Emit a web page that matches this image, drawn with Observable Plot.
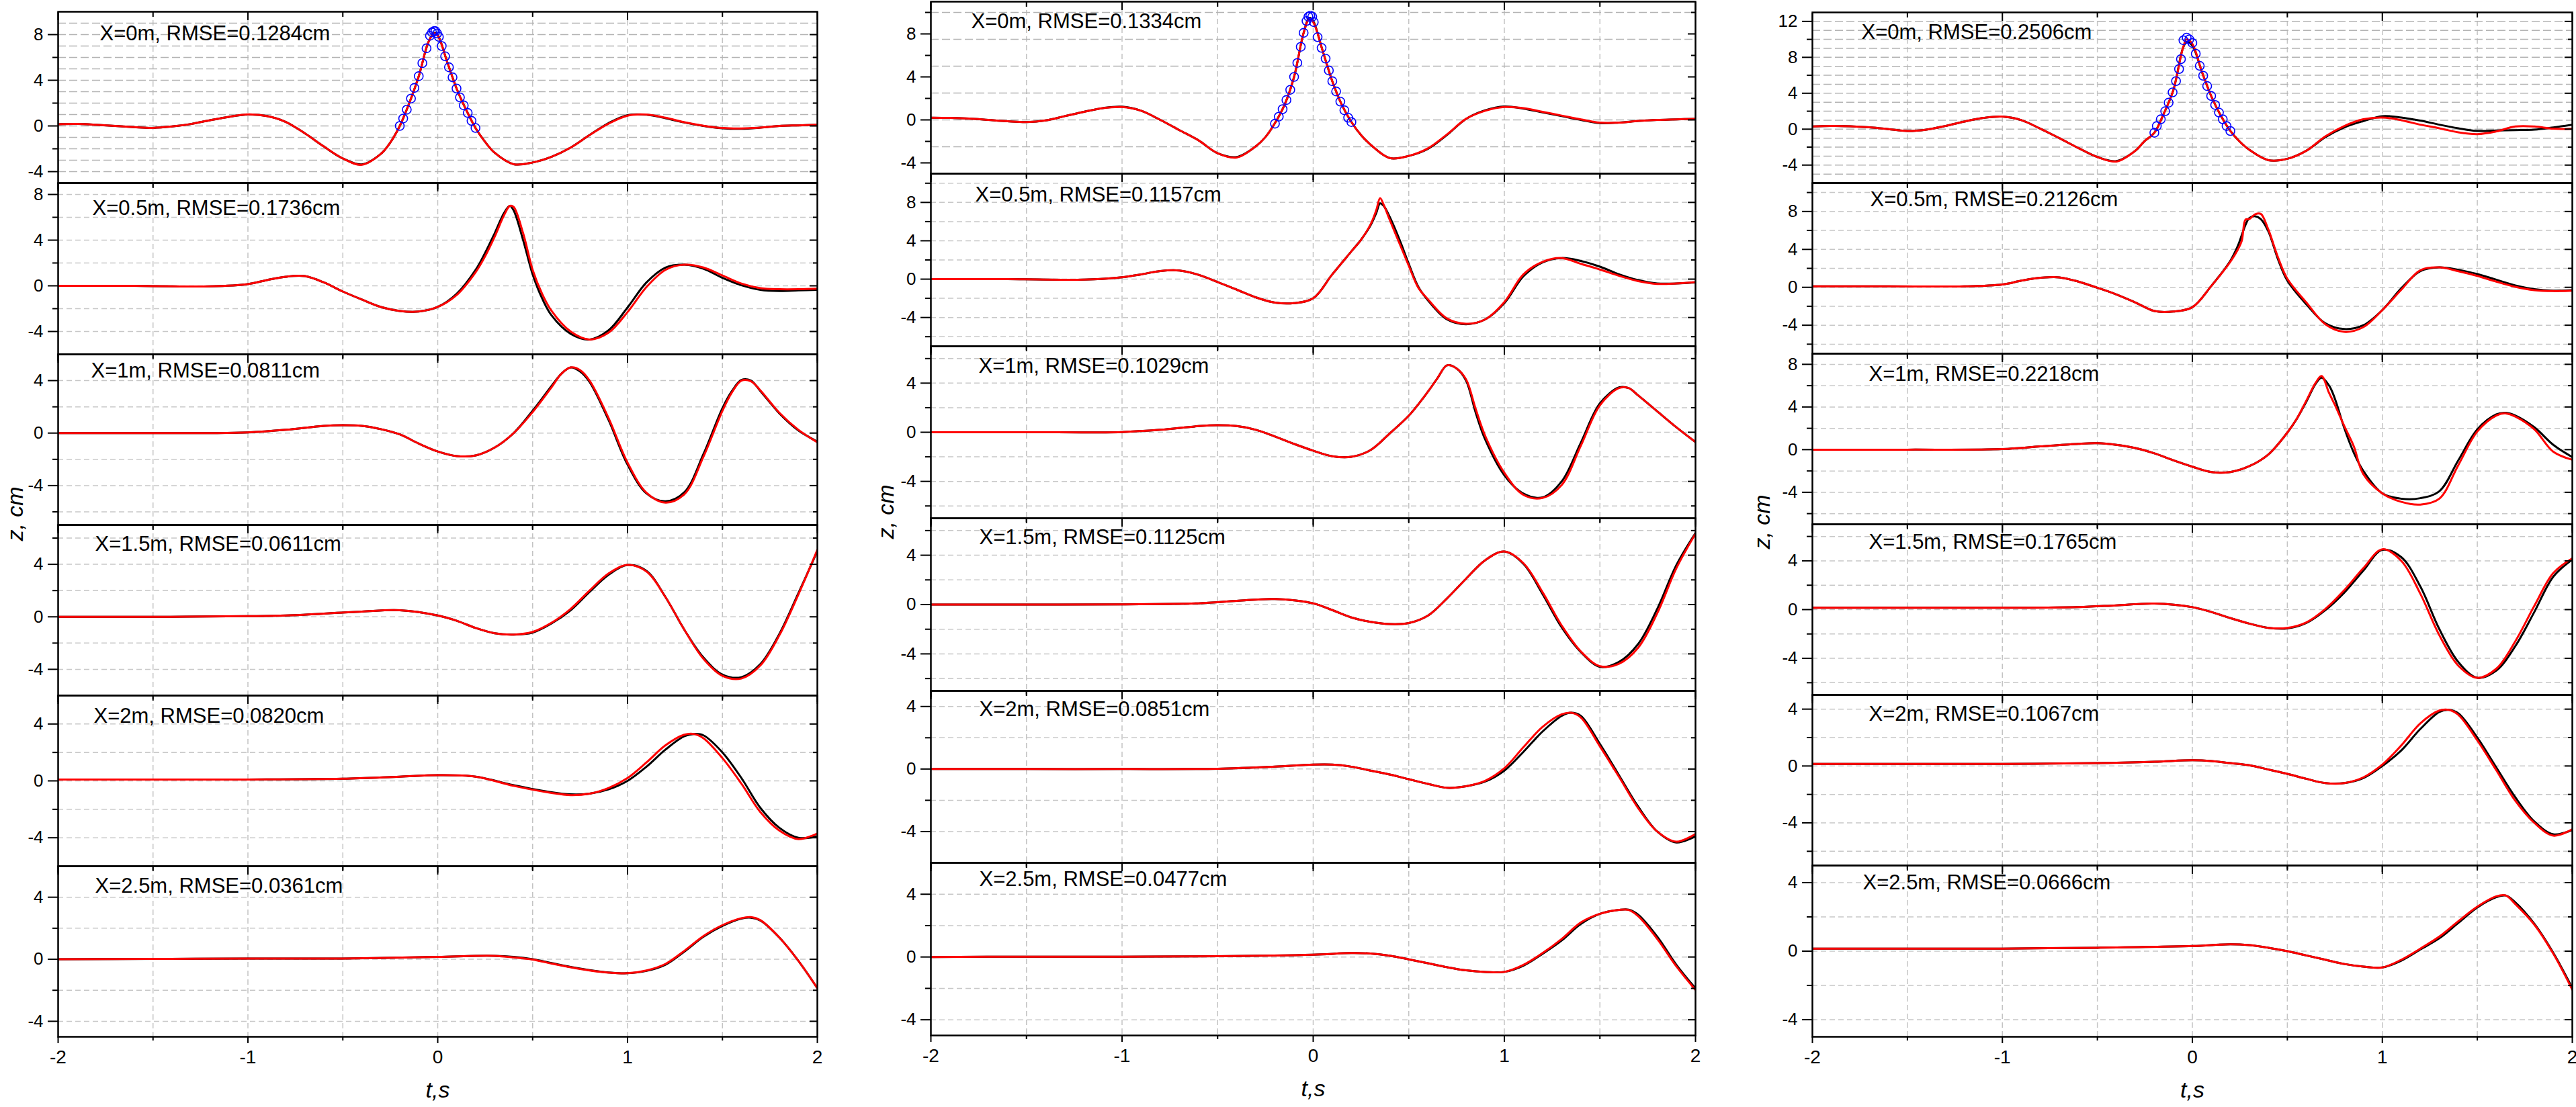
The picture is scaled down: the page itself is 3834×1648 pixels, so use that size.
<!DOCTYPE html>
<html>
<head>
<meta charset="utf-8">
<script src="https://cdn.jsdelivr.net/npm/d3@7"></script>
<script src="https://cdn.jsdelivr.net/npm/@observablehq/plot@0.6"></script>
<style>
html, body { margin: 0; padding: 0; background: #ffffff; }
#root { position: relative; width: 3834px; height: 1648px; overflow: hidden; background: #ffffff; font-family: "Liberation Sans", Arial, sans-serif; }
#root svg { position: absolute; overflow: visible; }
.zlab { position: absolute; font-family: "Liberation Sans", Arial, sans-serif; font-style: italic; font-size: 34px; line-height: 34px; color: #000; white-space: nowrap; transform: translate(-50%, -50%) rotate(-90deg); }
</style>
</head>
<body>
<div id="root"></div>
<script>
// ---------------- axis ticks / grid values ----------------
const xMajorTicks = [-2, -1, 0, 1, 2];
const xMinorTicks = [-1.5, -0.5, 0.5, 1.5];
const xGridLines = [-1.5, -1, -0.5, 0, 0.5, 1, 1.5];
const yMajorTicks = [-4, 0, 4, 8, 12];
const yMinorTicks = [-6, -2, 2, 6, 10];
const yGridEvery1 = [-6, -5, -4, -3, -2, -1, 0, 1, 2, 3, 4, 5, 6, 7, 8, 9, 10, 11, 12];
const yGridEvery2 = [-6, -4, -2, 0, 2, 4, 6, 8, 10];
const yGridEvery2p5 = [-2.5, 0, 2.5, 5, 7.5, 10];

// ---------------- labels ----------------
const c1_labels = ["X=0m, RMSE=0.1284cm", "X=0.5m, RMSE=0.1736cm", "X=1m, RMSE=0.0811cm", "X=1.5m, RMSE=0.0611cm", "X=2m, RMSE=0.0820cm", "X=2.5m, RMSE=0.0361cm"];
const c2_labels = ["X=0m, RMSE=0.1334cm", "X=0.5m, RMSE=0.1157cm", "X=1m, RMSE=0.1029cm", "X=1.5m, RMSE=0.1125cm", "X=2m, RMSE=0.0851cm", "X=2.5m, RMSE=0.0477cm"];
const c3_labels = ["X=0m, RMSE=0.2506cm", "X=0.5m, RMSE=0.2126cm", "X=1m, RMSE=0.2218cm", "X=1.5m, RMSE=0.1765cm", "X=2m, RMSE=0.1067cm", "X=2.5m, RMSE=0.0666cm"];
const xAxisLabel = "t,s";
const yAxisLabel = "z, cm";

// ---------------- y domains ----------------
const c1_ydomains = [[-5, 10], [-6, 9], [-7, 6], [-6, 7], [-6, 6], [-5, 6]];
const c2_ydomains = [[-5, 11], [-7, 11], [-7, 7], [-7, 7], [-6, 5], [-5, 6]];
const c3_ydomains = [[-6, 13], [-7, 11], [-7, 9], [-7, 7], [-7, 5], [-5, 5]];

// ---------------- column 1 data ----------------
const c1p1_t = [-2,-1.9,-1.8,-1.7,-1.6,-1.5,-1.4,-1.3,-1.2,-1.1,-1,-0.9,-0.8,-0.7,-0.6,-0.5,-0.4,-0.3,-0.25,-0.2,-0.15,-0.1,-0.05,-0.02,0,0.05,0.1,0.15,0.2,0.25,0.3,0.4,0.5,0.6,0.7,0.8,0.9,1,1.1,1.2,1.3,1.4,1.5,1.6,1.7,1.8,1.9,2];
const c1p1_meas = [0.15,0.17,0.1,0,-0.1,-0.17,-0.05,0.17,0.5,0.8,1.0,0.87,0.35,-0.65,-1.8,-2.85,-3.37,-2.45,-1.45,0,2.0,4.35,7.3,8.15,7.95,5.6,3.25,1.4,-0.2,-1.4,-2.35,-3.35,-3.2,-2.7,-1.9,-0.8,0.25,0.95,0.98,0.68,0.3,0,-0.2,-0.25,-0.15,0,0.05,0.1];
const c1p1_sim = [0.15,0.17,0.1,0,-0.1,-0.17,-0.05,0.17,0.5,0.8,1.02,0.87,0.35,-0.65,-1.8,-2.85,-3.4,-2.45,-1.45,0,2.0,4.35,7.3,8.1,7.9,5.6,3.25,1.4,-0.2,-1.4,-2.35,-3.35,-3.2,-2.7,-1.9,-0.8,0.2,0.9,1.0,0.72,0.32,0.02,-0.18,-0.22,-0.15,0,0.05,0.1];
const c1_circ_t = [-0.2,-0.182,-0.163,-0.141,-0.123,-0.1,-0.081,-0.059,-0.041,-0.03,-0.02,-0.012,-0.003,0.006,0.021,0.039,0.059,0.078,0.099,0.117,0.137,0.158,0.178,0.199];
const c1_circ_z = [0.0,0.65,1.43,2.4,3.33,4.36,5.5,6.8,7.9,8.2,8.3,8.3,8.1,7.8,7.0,6.1,5.14,4.26,3.28,2.5,1.8,1.14,0.45,-0.18];

const c1p2_t = [-2,-1.8,-1.6,-1.4,-1.2,-1,-0.9,-0.8,-0.7,-0.6,-0.5,-0.4,-0.3,-0.2,-0.1,0,0.1,0.2,0.25,0.3,0.35,0.38,0.4,0.45,0.5,0.55,0.6,0.7,0.8,0.9,1,1.1,1.2,1.3,1.4,1.5,1.6,1.7,1.8,1.9,2];
const c1p2_meas = [0,0,0,-0.05,-0.05,0.15,0.5,0.8,0.85,0.3,-0.5,-1.2,-1.85,-2.2,-2.25,-1.85,-0.7,1.4,2.9,4.6,6.4,7.0,6.6,4.0,1.0,-1.1,-2.6,-4.2,-4.7,-3.9,-1.9,0.3,1.6,1.85,1.5,0.7,0.05,-0.35,-0.45,-0.4,-0.35];
const c1p2_sim = [0,0,0,-0.05,-0.05,0.15,0.5,0.8,0.85,0.3,-0.5,-1.2,-1.85,-2.2,-2.25,-1.85,-0.8,1.2,2.6,4.3,6.2,7.0,6.9,4.6,1.4,-0.7,-2.2,-4.0,-4.7,-4.1,-2.3,-0.1,1.4,1.85,1.6,0.9,0.2,-0.2,-0.3,-0.3,-0.25];

const c1p3_t = [-2,-1.6,-1.2,-1,-0.8,-0.6,-0.5,-0.4,-0.3,-0.2,-0.1,0,0.1,0.2,0.3,0.4,0.5,0.6,0.65,0.7,0.75,0.8,0.9,1,1.1,1.2,1.3,1.4,1.5,1.55,1.6,1.65,1.7,1.8,1.9,2];
const c1p3_meas = [0,0,0,0.05,0.25,0.55,0.6,0.55,0.3,-0.1,-0.8,-1.4,-1.75,-1.7,-1.1,0,1.7,3.6,4.5,5.0,4.7,3.9,1.0,-2.4,-4.6,-5.2,-4.5,-1.6,1.9,3.2,4.05,4.0,3.2,1.5,0.2,-0.65];
const c1p3_sim = [0,0,0,0.05,0.25,0.55,0.6,0.55,0.3,-0.1,-0.8,-1.4,-1.75,-1.7,-1.1,0,1.6,3.5,4.5,5.0,4.8,4.0,1.15,-2.25,-4.55,-5.3,-4.65,-1.8,1.7,3.1,4.0,3.95,3.25,1.55,0.25,-0.7];

const c1p4_t = [-2,-1.5,-1,-0.8,-0.6,-0.4,-0.2,0,0.1,0.2,0.3,0.4,0.5,0.6,0.7,0.8,0.9,1,1.1,1.2,1.3,1.4,1.5,1.6,1.7,1.8,1.9,2];
const c1p4_meas = [0,0,0.05,0.1,0.25,0.4,0.5,0.1,-0.3,-0.85,-1.25,-1.35,-1.2,-0.5,0.5,1.9,3.2,3.95,3.5,1.5,-1.0,-3.1,-4.4,-4.6,-3.6,-1.3,1.8,5.0];
const c1p4_sim = [0,0,0.05,0.1,0.25,0.4,0.5,0.1,-0.3,-0.85,-1.25,-1.35,-1.15,-0.45,0.6,2.0,3.3,3.95,3.45,1.5,-1.0,-3.2,-4.5,-4.7,-3.7,-1.4,1.7,5.1];

const c1p5_t = [-2,-1.5,-1,-0.5,-0.2,0,0.2,0.4,0.6,0.7,0.8,0.9,1,1.1,1.2,1.3,1.35,1.4,1.5,1.6,1.7,1.8,1.9,2];
const c1p5_meas = [0.1,0.1,0.1,0.15,0.3,0.4,0.3,-0.3,-0.8,-0.95,-0.9,-0.6,0,1.0,2.2,3.15,3.3,3.2,2.0,0.2,-1.9,-3.3,-4.0,-3.9];
const c1p5_sim = [0.1,0.1,0.1,0.15,0.3,0.4,0.3,-0.35,-0.85,-1.0,-0.9,-0.5,0.2,1.3,2.5,3.25,3.3,3.0,1.6,-0.2,-2.2,-3.5,-4.1,-3.7];

const c1p6_t = [-2,-1.5,-1,-0.5,0,0.2,0.3,0.4,0.5,0.6,0.7,0.8,0.9,1,1.1,1.2,1.3,1.4,1.5,1.6,1.65,1.7,1.8,1.9,2];
const c1p6_meas = [0,0.02,0.05,0.05,0.15,0.22,0.22,0.15,0,-0.25,-0.5,-0.7,-0.85,-0.9,-0.75,-0.35,0.5,1.45,2.15,2.62,2.68,2.5,1.4,-0.1,-1.87];
const c1p6_sim = [0,0.02,0.05,0.05,0.15,0.22,0.22,0.12,-0.02,-0.28,-0.52,-0.72,-0.86,-0.9,-0.72,-0.3,0.55,1.5,2.2,2.65,2.72,2.52,1.4,-0.1,-1.87];

// ---------------- column 2 data ----------------
const c2p1_t = [-2,-1.9,-1.8,-1.7,-1.6,-1.5,-1.4,-1.3,-1.2,-1.1,-1,-0.9,-0.8,-0.7,-0.6,-0.5,-0.4,-0.3,-0.25,-0.2,-0.15,-0.1,-0.05,-0.02,0,0.05,0.1,0.15,0.2,0.25,0.3,0.4,0.5,0.6,0.7,0.8,0.9,1,1.1,1.2,1.3,1.4,1.5,1.6,1.7,1.8,1.9,2];
const c2p1_meas = [0.2,0.18,0.12,0,-0.12,-0.2,-0.05,0.35,0.75,1.1,1.23,0.85,0,-0.95,-1.9,-3.1,-3.45,-2.45,-1.6,-0.3,1.4,4.0,8.1,9.5,9.2,6.4,3.6,1.4,-0.2,-1.4,-2.3,-3.55,-3.35,-2.7,-1.4,0.1,0.9,1.25,1.05,0.7,0.35,0,-0.3,-0.25,-0.1,0,0.05,0.1];
const c2p1_sim = [0.2,0.18,0.12,0,-0.12,-0.2,-0.05,0.35,0.75,1.1,1.2,0.85,0,-0.95,-1.9,-3.1,-3.5,-2.45,-1.6,-0.3,1.4,4.0,8.1,9.4,9.1,6.4,3.6,1.4,-0.2,-1.4,-2.3,-3.55,-3.35,-2.65,-1.35,0.1,0.85,1.2,1.1,0.75,0.4,0.05,-0.25,-0.25,-0.1,0,0.05,0.1];
const c2_circ_t = [-0.2,-0.18,-0.16,-0.14,-0.12,-0.1,-0.083,-0.065,-0.05,-0.035,-0.025,-0.015,-0.005,0.003,0.023,0.044,0.065,0.082,0.1,0.12,0.142,0.163,0.183,0.2];
const c2_circ_z = [-0.35,0.3,1.0,1.85,2.8,4.0,5.3,6.8,8.1,9.2,9.6,9.7,9.6,9.1,7.7,6.7,5.7,4.6,3.6,2.65,1.7,0.9,0.2,-0.2];

const c2p2_t = [-2,-1.6,-1.2,-1,-0.9,-0.8,-0.7,-0.6,-0.5,-0.4,-0.3,-0.2,-0.1,0,0.1,0.2,0.25,0.3,0.33,0.35,0.37,0.4,0.45,0.5,0.55,0.6,0.7,0.8,0.9,1,1.1,1.2,1.3,1.4,1.5,1.6,1.7,1.8,1.9,2];
const c2p2_meas = [0,0,-0.05,0.2,0.5,0.85,0.9,0.45,-0.3,-1.1,-1.9,-2.45,-2.5,-2.0,0.5,2.9,4.1,5.6,6.9,7.9,7.6,6.5,4.2,1.6,-0.8,-2.2,-4.2,-4.7,-4.2,-2.5,0.3,1.75,2.2,1.9,1.3,0.5,-0.1,-0.45,-0.45,-0.35];
const c2p2_sim = [0,0,-0.05,0.2,0.5,0.85,0.9,0.45,-0.3,-1.1,-1.9,-2.45,-2.5,-2.0,0.5,2.9,4.1,5.7,7.2,8.45,7.7,6.2,3.8,1.4,-0.9,-2.1,-4.1,-4.65,-4.2,-2.4,0.5,1.8,2.2,1.6,1.0,0.35,-0.2,-0.5,-0.45,-0.3];

const c2p3_t = [-2,-1.5,-1,-0.8,-0.6,-0.5,-0.4,-0.3,-0.2,-0.1,0,0.1,0.2,0.3,0.4,0.5,0.6,0.65,0.7,0.75,0.8,0.85,0.9,1,1.1,1.2,1.3,1.4,1.5,1.6,1.65,1.7,1.8,1.9,2];
const c2p3_meas = [0,0,0.02,0.2,0.5,0.57,0.5,0.2,-0.35,-0.95,-1.5,-1.95,-2.0,-1.45,-0.1,1.35,3.3,4.4,5.45,5.2,4.2,1.6,-0.6,-3.5,-5.0,-5.3,-4.0,-0.85,2.35,3.65,3.6,3.0,1.7,0.4,-0.8];
const c2p3_sim = [0,0,0.02,0.2,0.5,0.57,0.5,0.2,-0.35,-0.95,-1.5,-1.95,-2.0,-1.45,-0.1,1.35,3.3,4.4,5.45,5.2,4.3,1.9,-0.3,-3.3,-5.1,-5.35,-4.3,-1.1,2.2,3.6,3.6,3.0,1.7,0.4,-0.8];

const c2p4_t = [-2,-1.5,-1,-0.6,-0.4,-0.2,0,0.1,0.2,0.3,0.4,0.5,0.6,0.7,0.8,0.9,1,1.1,1.2,1.3,1.4,1.5,1.6,1.7,1.8,1.9,2];
const c2p4_meas = [0,0,0.02,0.1,0.3,0.45,0.1,-0.45,-1.05,-1.4,-1.58,-1.5,-0.9,0.5,2.1,3.6,4.3,3.3,0.85,-1.85,-3.85,-5.05,-4.65,-3.2,-0.35,3.2,5.8];
const c2p4_sim = [0,0,0.02,0.1,0.3,0.45,0.1,-0.45,-1.05,-1.4,-1.58,-1.5,-0.9,0.5,2.1,3.6,4.3,3.35,1.0,-1.7,-3.8,-5.0,-4.8,-3.5,-0.7,2.95,5.75];

const c2p5_t = [-2,-1.5,-1,-0.5,-0.2,0,0.1,0.2,0.3,0.4,0.5,0.6,0.7,0.8,0.9,1,1.1,1.2,1.3,1.35,1.4,1.5,1.6,1.7,1.8,1.9,2];
const c2p5_meas = [0,0,0,0.02,0.15,0.28,0.28,0.15,-0.1,-0.35,-0.65,-0.95,-1.2,-1.1,-0.8,-0.1,1.1,2.4,3.4,3.6,3.4,1.6,-0.4,-2.4,-4.0,-4.7,-4.3];
const c2p5_sim = [0,0,0,0.02,0.15,0.28,0.28,0.15,-0.1,-0.35,-0.65,-0.95,-1.2,-1.1,-0.75,0.05,1.4,2.7,3.5,3.6,3.3,1.45,-0.5,-2.5,-4.0,-4.65,-4.15];

const c2p6_t = [-2,-1.5,-1,-0.5,0,0.2,0.3,0.4,0.5,0.6,0.7,0.8,0.9,1,1.1,1.2,1.3,1.4,1.5,1.6,1.65,1.7,1.8,1.9,2];
const c2p6_meas = [0,0.02,0.02,0.05,0.15,0.25,0.22,0.08,-0.15,-0.4,-0.65,-0.85,-0.95,-0.95,-0.55,0.2,1.05,2.1,2.75,3.0,3.02,2.7,1.3,-0.5,-2.0];
const c2p6_sim = [0,0.02,0.02,0.05,0.15,0.25,0.22,0.08,-0.15,-0.4,-0.65,-0.85,-0.95,-0.95,-0.5,0.25,1.15,2.2,2.75,3.0,3.0,2.6,1.15,-0.6,-2.1];

// ---------------- column 3 data ----------------
const c3p1_t = [-2,-1.9,-1.8,-1.7,-1.6,-1.5,-1.4,-1.3,-1.2,-1.1,-1,-0.9,-0.8,-0.7,-0.6,-0.5,-0.4,-0.3,-0.25,-0.2,-0.15,-0.1,-0.05,-0.03,0,0.05,0.1,0.15,0.2,0.25,0.3,0.4,0.5,0.6,0.7,0.8,0.9,1,1.1,1.2,1.3,1.4,1.5,1.6,1.7,1.8,1.9,2];
const c3p1_meas = [0.3,0.35,0.32,0.2,0,-0.2,-0.05,0.35,0.85,1.25,1.4,1.0,0.05,-1.0,-2.1,-3.1,-3.55,-2.4,-1.3,-0.4,1.75,4.35,9.0,9.7,9.3,6.4,3.65,1.5,-0.2,-1.4,-2.3,-3.45,-3.3,-2.4,-0.9,0.2,0.9,1.45,1.3,0.95,0.5,0.1,-0.2,-0.15,-0.1,-0.05,0.2,0.5];
const c3p1_sim = [0.3,0.35,0.32,0.2,0,-0.2,-0.05,0.35,0.85,1.25,1.4,1.0,0.05,-1.0,-2.1,-3.1,-3.6,-2.4,-1.3,-0.4,1.75,4.35,9.0,10.0,9.5,6.4,3.65,1.5,-0.2,-1.4,-2.3,-3.45,-3.3,-2.4,-0.8,0.35,1.1,1.3,1.0,0.5,0.1,-0.35,-0.55,-0.25,0.3,0.3,0.05,0.05];
const c3_circ_t = [-0.2,-0.187,-0.166,-0.143,-0.125,-0.104,-0.086,-0.07,-0.06,-0.047,-0.03,-0.016,0,0.018,0.039,0.057,0.078,0.099,0.12,0.14,0.16,0.18,0.2];
const c3_circ_z = [-0.4,0.35,1.1,2.0,2.95,4.1,5.35,6.7,7.8,9.9,10.2,10.0,9.6,8.4,7.05,5.95,4.8,3.7,2.7,1.85,1.1,0.35,-0.2];

const c3p2_t = [-2,-1.6,-1.2,-1,-0.9,-0.8,-0.7,-0.6,-0.5,-0.4,-0.3,-0.2,-0.1,0,0.1,0.2,0.24,0.26,0.28,0.3,0.33,0.36,0.4,0.45,0.5,0.6,0.7,0.8,0.9,1,1.1,1.2,1.3,1.4,1.5,1.6,1.7,1.8,1.9,2];
const c3p2_meas = [0.1,0.1,0.1,0.3,0.7,1.0,1.05,0.6,-0.05,-0.75,-1.6,-2.5,-2.55,-2.1,0.15,2.8,4.4,5.5,6.6,7.3,7.5,7.2,5.9,3.0,0.7,-1.8,-3.8,-4.4,-4.0,-2.4,-0.1,1.7,2.1,1.85,1.4,0.8,0.2,-0.2,-0.35,-0.3];
const c3p2_sim = [0.1,0.1,0.1,0.3,0.7,1.0,1.05,0.6,-0.05,-0.75,-1.6,-2.5,-2.55,-2.1,0.15,2.7,4.0,4.9,7.15,7.2,7.7,7.75,6.1,3.2,0.9,-1.6,-3.9,-4.7,-4.2,-2.4,-0.25,1.8,2.1,1.7,1.2,0.6,0.05,-0.3,-0.4,-0.35];

const c3p3_t = [-2,-1.5,-1,-0.8,-0.6,-0.5,-0.4,-0.3,-0.2,-0.1,0,0.1,0.2,0.3,0.4,0.5,0.55,0.6,0.65,0.68,0.72,0.75,0.8,0.85,0.9,1,1.1,1.2,1.3,1.4,1.5,1.6,1.65,1.7,1.8,1.9,2];
const c3p3_meas = [0,0,0.05,0.3,0.55,0.6,0.45,0.15,-0.35,-1.0,-1.6,-2.1,-2.1,-1.55,-0.45,1.6,2.9,4.5,6.2,6.75,6.0,4.8,2.0,-0.3,-2.0,-4.1,-4.6,-4.55,-3.9,-1.0,1.9,3.3,3.45,3.2,2.1,0.45,-0.7];
const c3p3_sim = [0,0,0.05,0.3,0.55,0.6,0.45,0.15,-0.35,-1.0,-1.6,-2.1,-2.1,-1.55,-0.45,1.6,2.9,4.6,6.3,6.9,5.3,4.2,2.2,0.3,-2.3,-4.1,-4.9,-5.15,-4.6,-1.45,1.7,3.2,3.4,3.1,1.9,-0.2,-0.95];

const c3p4_t = [-2,-1.5,-1,-0.6,-0.4,-0.2,0,0.1,0.2,0.3,0.4,0.5,0.6,0.7,0.8,0.9,1,1.1,1.2,1.3,1.4,1.5,1.6,1.7,1.8,1.9,2];
const c3p4_meas = [0.15,0.15,0.15,0.2,0.35,0.5,0.2,-0.2,-0.7,-1.15,-1.5,-1.55,-1.1,-0.05,1.4,3.2,4.9,4.3,1.9,-1.6,-4.3,-5.6,-5.0,-3.0,-0.2,2.7,4.1];
const c3p4_sim = [0.15,0.15,0.15,0.2,0.35,0.5,0.2,-0.2,-0.7,-1.15,-1.5,-1.5,-1.05,0.05,1.6,3.4,4.95,4.0,1.3,-2.1,-4.6,-5.6,-4.85,-2.6,0.3,3.0,4.2];

const c3p5_t = [-2,-1.5,-1,-0.5,-0.2,0,0.1,0.2,0.3,0.4,0.5,0.6,0.7,0.8,0.9,1,1.1,1.2,1.3,1.35,1.4,1.5,1.6,1.7,1.8,1.9,2];
const c3p5_meas = [0.15,0.15,0.15,0.2,0.3,0.4,0.35,0.2,0.05,-0.25,-0.55,-0.9,-1.2,-1.2,-0.85,0,1.1,2.6,3.8,3.95,3.7,2.0,-0.1,-2.2,-3.9,-4.8,-4.5];
const c3p5_sim = [0.15,0.15,0.15,0.2,0.3,0.4,0.35,0.2,0.05,-0.25,-0.55,-0.9,-1.2,-1.2,-0.8,0.1,1.45,3.0,3.9,3.95,3.6,1.8,-0.3,-2.45,-4.0,-4.9,-4.45];

const c3p6_t = [-2,-1.5,-1,-0.5,0,0.2,0.3,0.4,0.5,0.6,0.7,0.8,0.9,1,1.1,1.2,1.3,1.4,1.5,1.6,1.65,1.7,1.8,1.9,2];
const c3p6_meas = [0.15,0.15,0.15,0.2,0.3,0.4,0.35,0.2,0,-0.25,-0.5,-0.75,-0.9,-0.95,-0.55,0.1,0.75,1.65,2.55,3.15,3.25,2.85,1.6,-0.1,-2.15];
const c3p6_sim = [0.15,0.15,0.15,0.2,0.3,0.4,0.35,0.2,0,-0.25,-0.5,-0.75,-0.9,-0.95,-0.5,0.15,0.85,1.75,2.6,3.2,3.25,2.75,1.55,-0.15,-2.25];

// ---------------- layout (pixel positions of each panel frame) ----------------
const layout = [
  {left: 86, right: 1216, rows: [17, 272, 527, 781, 1035, 1289, 1543], zLabel: [22, 765],
   labelOffsets: [[62, 20], [51, 25], [49, 12], [55, 16], [53, 18], [55, 17]]},
  {left: 1385, right: 2523, rows: [2, 258, 515, 771, 1028, 1284, 1541], zLabel: [1318, 762],
   labelOffsets: [[60, 17], [66, 19], [71, 17], [72, 16], [72, 15], [72, 12]]},
  {left: 2697, right: 3828, rows: [18, 272, 526, 780, 1034, 1288, 1543], zLabel: [2622, 777],
   labelOffsets: [[73, 17], [86, 12], [84, 18], [84, 14], [84, 16], [75, 13]]}
];

const columns = [
  {T: [c1p1_t, c1p2_t, c1p3_t, c1p4_t, c1p5_t, c1p6_t],
   M: [c1p1_meas, c1p2_meas, c1p3_meas, c1p4_meas, c1p5_meas, c1p6_meas],
   S: [c1p1_sim, c1p2_sim, c1p3_sim, c1p4_sim, c1p5_sim, c1p6_sim],
   labels: c1_labels, ydom: c1_ydomains, circT: c1_circ_t, circZ: c1_circ_z, topGrid: yGridEvery1},
  {T: [c2p1_t, c2p2_t, c2p3_t, c2p4_t, c2p5_t, c2p6_t],
   M: [c2p1_meas, c2p2_meas, c2p3_meas, c2p4_meas, c2p5_meas, c2p6_meas],
   S: [c2p1_sim, c2p2_sim, c2p3_sim, c2p4_sim, c2p5_sim, c2p6_sim],
   labels: c2_labels, ydom: c2_ydomains, circT: c2_circ_t, circZ: c2_circ_z, topGrid: yGridEvery2p5},
  {T: [c3p1_t, c3p2_t, c3p3_t, c3p4_t, c3p5_t, c3p6_t],
   M: [c3p1_meas, c3p2_meas, c3p3_meas, c3p4_meas, c3p5_meas, c3p6_meas],
   S: [c3p1_sim, c3p2_sim, c3p3_sim, c3p4_sim, c3p5_sim, c3p6_sim],
   labels: c3_labels, ydom: c3_ydomains, circT: c3_circ_t, circZ: c3_circ_z, topGrid: yGridEvery1}
];

const root = document.getElementById("root");
const FONT = "Liberation Sans, Arial, Helvetica, sans-serif";
const plainFormat = d => String(d);

columns.forEach((col, ci) => {
  const L = layout[ci];
  for (let r = 0; r < 6; r++) {
    const top = L.rows[r], bottom = L.rows[r + 1];
    const fw = L.right - L.left, fh = bottom - top;
    const mL = 90, mR = 8, mT = 8, mB = r === 5 ? 100 : 8;
    const [lo, hi] = col.ydom[r];
    const inside = v => v > lo && v < hi;
    const meas = col.T[r].map((t, i) => ({t, z: col.M[r][i]}));
    const sim = col.T[r].map((t, i) => ({t, z: col.S[r][i]}));
    const yMaj = yMajorTicks.filter(inside);
    const yMin = yMinorTicks.filter(inside);
    const yGrid = (r === 0 ? col.topGrid : yGridEvery2).filter(inside);
    const [ldx, ldy] = L.labelOffsets[r];
    const bottomRow = r === 5;
    const tick = {stroke: "black", strokeWidth: 2, label: null};

    const marks = [
      Plot.gridX(xGridLines, {stroke: "#c4c4c4", strokeOpacity: 1, strokeWidth: 1.5, strokeDasharray: "8,5"}),
      Plot.gridY(yGrid, {stroke: r === 0 ? "#b4b4b4" : "#c8c8c8", strokeOpacity: 1, strokeWidth: 1.5, strokeDasharray: r === 0 ? "12,5" : "8,5"}),
      Plot.line(meas, {x: "t", y: "z", stroke: "#000000", strokeWidth: 3, curve: "catmull-rom", clip: true}),
      Plot.line(sim, {x: "t", y: "z", stroke: "#ff0000", strokeWidth: 3, curve: "catmull-rom", clip: true})
    ];
    if (r === 0) {
      const circ = col.circT.map((t, i) => ({t, z: col.circZ[i]}));
      marks.push(Plot.dot(circ, {x: "t", y: "z", r: 6.5, stroke: "#0000ff", strokeWidth: 1.6, fill: "none"}));
    }
    marks.push(
      Plot.frame({stroke: "black", strokeWidth: 2.5}),
      Plot.axisY(yMaj, {anchor: "left", tickSize: 15, tickPadding: 7, fontSize: 26, fill: "black", tickFormat: plainFormat, ...tick}),
      Plot.axisY(yMin, {anchor: "left", tickSize: 8, fill: "none", ...tick}),
      Plot.axisY(yMaj, {anchor: "right", tickSize: 12, dx: -12, fill: "none", ...tick}),
      Plot.axisY(yMin, {anchor: "right", tickSize: 7, dx: -7, fill: "none", ...tick}),
      Plot.axisX(xMajorTicks, {anchor: "bottom", tickSize: 10, tickPadding: 10, fontSize: 28, fill: bottomRow ? "black" : "none", tickFormat: plainFormat, ...tick}),
      Plot.axisX(xMinorTicks, {anchor: "bottom", tickSize: 6, fill: "none", ...tick}),
      Plot.axisX(xMajorTicks, {anchor: "top", tickSize: 12, dy: 12, fill: "none", ...tick}),
      Plot.axisX(xMinorTicks, {anchor: "top", tickSize: 7, dy: 7, fill: "none", ...tick}),
      Plot.text([col.labels[r]], {text: d => d, frameAnchor: "top-left", dx: ldx, dy: ldy, textAnchor: "start", lineAnchor: "top", fontSize: 31, fill: "black"})
    );
    if (bottomRow) {
      marks.push(Plot.text([xAxisLabel], {text: d => d, frameAnchor: "bottom", dy: 80, textAnchor: "middle", lineAnchor: "middle", fontSize: 34, fontStyle: "italic", fill: "black"}));
    }

    const svg = Plot.plot({
      width: fw + mL + mR,
      height: fh + mT + mB,
      marginLeft: mL, marginRight: mR, marginTop: mT, marginBottom: mB,
      x: {domain: [-2, 2]},
      y: {domain: [lo, hi]},
      style: {background: "transparent", overflow: "visible", fontFamily: FONT, color: "black"},
      marks
    });
    svg.style.left = (L.left - mL) + "px";
    svg.style.top = (top - mT) + "px";
    root.appendChild(svg);
  }
  const zl = document.createElement("div");
  zl.className = "zlab";
  zl.textContent = yAxisLabel;
  zl.style.left = L.zLabel[0] + "px";
  zl.style.top = L.zLabel[1] + "px";
  root.appendChild(zl);
});
</script>
</body>
</html>
